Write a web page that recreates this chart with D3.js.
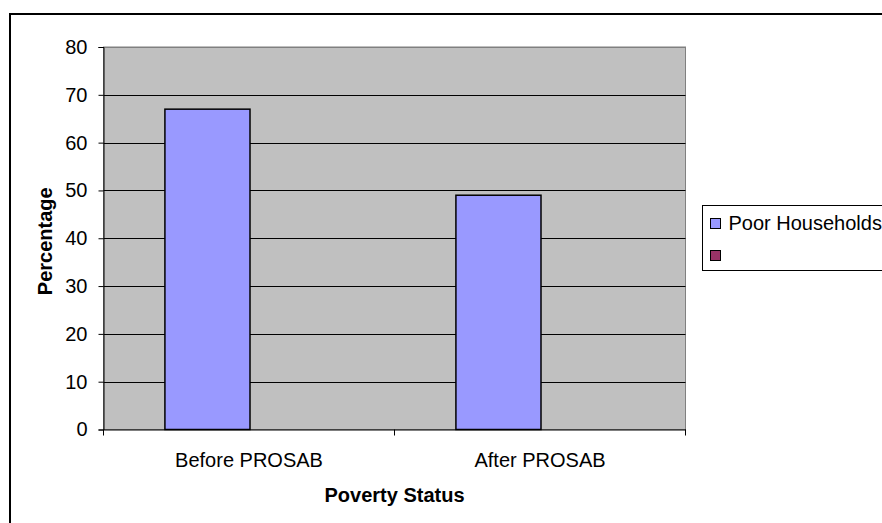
<!DOCTYPE html>
<html>
<head>
<meta charset="utf-8">
<script src="https://cdn.jsdelivr.net/npm/d3@7"></script>
<style>
  body { margin: 0; background: #fff; }
  svg text { font-family: "Liberation Sans", Arial, sans-serif; }
</style>
</head>
<body>
<div id="chart"></div>
<script>
const categories = ["Before PROSAB", "After PROSAB"];
const seriesNames = ["Poor Households", ""];
const poorHouseholds = [67, 49];
const emptySeries = [null, null];
const yTicks = [0, 10, 20, 30, 40, 50, 60, 70, 80];
const colors = ["#9999FF", "#993366"];

const width = 882, height = 523;
const plot = { left: 103.5, right: 685.5, top: 47, bottom: 429.5 };
const fontSize = 20;

const svg = d3.select("#chart").append("svg")
    .attr("width", width)
    .attr("height", height);

// outer chart border
svg.append("rect")
    .attr("x", 10).attr("y", 14)
    .attr("width", 900).attr("height", 600)
    .attr("fill", "#fff")
    .attr("stroke", "#000")
    .attr("stroke-width", 2);

const x = d3.scaleBand()
    .domain(categories)
    .range([plot.left, plot.right])
    .padding(0);

const xInner = d3.scaleBand()
    .domain(seriesNames)
    .range([0, x.bandwidth()])
    .paddingInner(0)
    .paddingOuter(0.71);

const y = d3.scaleLinear()
    .domain([0, 80])
    .range([plot.bottom, plot.top]);

// plot area
svg.append("rect")
    .attr("x", plot.left).attr("y", plot.top)
    .attr("width", plot.right - plot.left)
    .attr("height", plot.bottom - plot.top)
    .attr("fill", "#C0C0C0")
    .attr("stroke", "#808080")
    .attr("stroke-width", 1);

// gridlines
svg.append("g")
    .selectAll("line")
    .data(yTicks.filter(d => d > 0))
    .enter().append("line")
    .attr("x1", plot.left).attr("x2", plot.right)
    .attr("y1", d => Math.round(y(d)) + 0.5)
    .attr("y2", d => Math.round(y(d)) + 0.5)
    .attr("stroke", d => d === 80 ? "#808080" : "#000")
    .attr("stroke-width", 1);

// bars
const rows = categories.map((c, i) => ({ cat: c, vals: [poorHouseholds[i], emptySeries[i]] }));
const groups = svg.append("g")
    .selectAll("g")
    .data(rows)
    .enter().append("g")
    .attr("transform", d => `translate(${x(d.cat) + 1},0)`);

groups.selectAll("rect")
    .data(d => d.vals.map((v, j) => ({ v, s: seriesNames[j], j })).filter(e => e.v != null))
    .enter().append("rect")
    .attr("x", d => xInner(d.s))
    .attr("y", d => y(d.v))
    .attr("width", xInner.bandwidth())
    .attr("height", d => y(0) - y(d.v))
    .attr("fill", d => colors[d.j])
    .attr("stroke", "#000")
    .attr("stroke-width", 1.5);

// y axis
const yAxis = svg.append("g")
    .attr("transform", `translate(${plot.left},0)`)
    .call(d3.axisLeft(y).tickValues(yTicks).tickSize(5).tickPadding(11));
yAxis.select(".domain").attr("stroke", "#000");
yAxis.selectAll(".tick line").attr("stroke", "#000");
yAxis.selectAll("text")
    .attr("font-size", fontSize)
    .attr("fill", "#000")
    .style("font-family", "'Liberation Sans', Arial, sans-serif");

// x axis
const xAxis = svg.append("g")
    .attr("transform", `translate(0,${plot.bottom})`)
    .call(d3.axisBottom(x).tickSize(0).tickPadding(23));
xAxis.select(".domain").attr("stroke", "#000");
xAxis.selectAll("text")
    .attr("font-size", fontSize)
    .attr("fill", "#000")
    .style("font-family", "'Liberation Sans', Arial, sans-serif");

// x tick marks at band boundaries
svg.append("g")
    .selectAll("line")
    .data(categories.map(c => x(c)).concat([plot.right]))
    .enter().append("line")
    .attr("x1", d => d).attr("x2", d => d)
    .attr("y1", plot.bottom).attr("y2", plot.bottom + 6)
    .attr("stroke", "#000");

// axis titles
svg.append("text")
    .attr("x", (plot.left + plot.right) / 2)
    .attr("y", 502)
    .attr("text-anchor", "middle")
    .attr("font-size", fontSize)
    .attr("font-weight", "bold")
    .text("Poverty Status");

svg.append("text")
    .attr("transform", `translate(52,${(plot.top + plot.bottom) / 2 + 3}) rotate(-90)`)
    .attr("text-anchor", "middle")
    .attr("font-size", fontSize)
    .attr("font-weight", "bold")
    .text("Percentage");

// legend
const legend = svg.append("g");
legend.append("rect")
    .attr("x", 702.5).attr("y", 205.5)
    .attr("width", 200).attr("height", 65)
    .attr("fill", "#fff")
    .attr("stroke", "#000")
    .attr("stroke-width", 1);

const items = legend.selectAll("g.item")
    .data(seriesNames)
    .enter().append("g")
    .attr("class", "item")
    .attr("transform", (d, i) => `translate(710.5,${218.5 + i * 32})`);

items.append("rect")
    .attr("width", 10).attr("height", 10)
    .attr("fill", (d, i) => colors[i])
    .attr("stroke", "#000")
    .attr("stroke-width", 1);

items.append("text")
    .attr("x", 18).attr("y", 11.5)
    .attr("font-size", fontSize)
    .text(d => d);
</script>
</body>
</html>
